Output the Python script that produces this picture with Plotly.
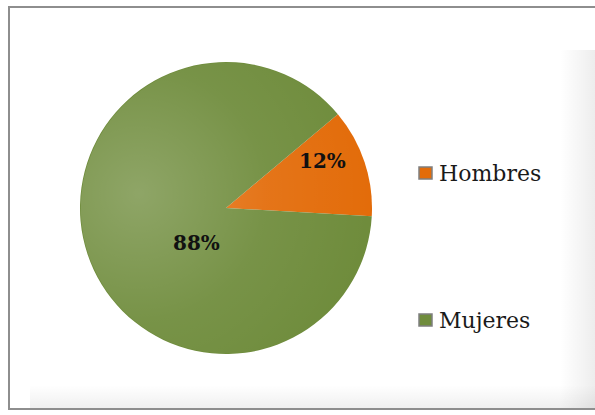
import base64
import plotly.graph_objects as go

# Data
categories = ["Hombres", "Mujeres"]
values = [12, 88]
colors = ["#E36C0A", "#6F8C3C"]

W, H = 595, 415

def px(x):
    return x / W

def py(y):
    return 1 - y / H

def svg_uri(svg):
    return "data:image/svg+xml;base64," + base64.b64encode(svg.encode()).decode()

total = sum(values)
pct_text = [f"{round(v / total * 100)}%" for v in values]

# Pie placement (pixels)
cx, cy, r = 226, 208, 146

fig = go.Figure(
    go.Pie(
        labels=categories,
        values=values,
        marker=dict(colors=colors, line=dict(width=0)),
        sort=False,
        direction="clockwise",
        rotation=50,
        textinfo="none",
        hoverinfo="label+percent",
        showlegend=False,
        domain=dict(x=[px(cx - r), px(cx + r)], y=[py(cy + r), py(cy - r)]),
    )
)

# Soft highlight on the left side of the pie
pie_glow = """<svg xmlns='http://www.w3.org/2000/svg' width='200' height='200' viewBox='0 0 200 200'>
<defs><radialGradient id='g' cx='0.2' cy='0.45' r='0.8'>
<stop offset='0' stop-color='white' stop-opacity='0.22'/>
<stop offset='0.55' stop-color='white' stop-opacity='0.06'/>
<stop offset='1' stop-color='white' stop-opacity='0'/>
</radialGradient></defs>
<circle cx='100' cy='100' r='99.5' fill='url(#g)'/></svg>"""

# Faint shadow along the right and bottom inside the frame
frame_shade = """<svg xmlns='http://www.w3.org/2000/svg' width='595' height='415' viewBox='0 0 595 415' preserveAspectRatio='none'>
<defs>
<linearGradient id='rx' x1='0' y1='0' x2='1' y2='0'>
<stop offset='0' stop-color='black' stop-opacity='0'/>
<stop offset='1' stop-color='black' stop-opacity='0.07'/>
</linearGradient>
<linearGradient id='by' x1='0' y1='0' x2='0' y2='1'>
<stop offset='0' stop-color='black' stop-opacity='0'/>
<stop offset='1' stop-color='black' stop-opacity='0.06'/>
</linearGradient>
</defs>
<rect x='560' y='50' width='35' height='358' fill='url(#rx)'/>
<rect x='30' y='385' width='565' height='23' fill='url(#by)'/>
</svg>"""

images = [
    dict(source=svg_uri(frame_shade), xref="paper", yref="paper",
         x=0, y=1, sizex=1, sizey=1, xanchor="left", yanchor="top",
         sizing="stretch", layer="below"),
    dict(source=svg_uri(pie_glow), xref="paper", yref="paper",
         x=px(cx - r), y=py(cy - r), sizex=2 * r / W, sizey=2 * r / H,
         xanchor="left", yanchor="top", sizing="stretch", layer="above"),
]

shapes = []
# Outer frame
shapes.append(dict(type="rect", xref="paper", yref="paper",
                   x0=px(9), x1=px(610), y0=py(409), y1=py(7),
                   fillcolor="rgba(0,0,0,0)", line=dict(color="#8E8E8E", width=2), layer="above"))

# Legend swatches
legend_y = [173, 320]
for c, yy in zip(colors, legend_y):
    shapes.append(dict(type="rect", xref="paper", yref="paper",
                       x0=px(419), x1=px(432), y0=py(yy + 6), y1=py(yy - 6),
                       fillcolor=c, line=dict(color="#7F7F7F", width=1.5)))

annotations = []
for lab, yy in zip(categories, legend_y):
    annotations.append(dict(text=lab, xref="paper", yref="paper",
                            x=px(437), y=py(yy), xanchor="left", yanchor="middle",
                            showarrow=False,
                            font=dict(family="DejaVu Serif", size=22, color="#1A1A1A")))

# Percentage labels on the slices
label_pos = [(322, 161), (196, 243)]
for t, (lx, ly) in zip(pct_text, label_pos):
    annotations.append(dict(text=f"<b>{t}</b>", xref="paper", yref="paper",
                            x=px(lx), y=py(ly), xanchor="center", yanchor="middle",
                            showarrow=False,
                            font=dict(family="DejaVu Serif", size=20, color="#111111")))

fig.update_layout(
    width=W, height=H,
    margin=dict(l=0, r=0, t=0, b=0),
    paper_bgcolor="white",
    plot_bgcolor="white",
    shapes=shapes,
    annotations=annotations,
    images=images,
)

fig.write_html("out.html")
